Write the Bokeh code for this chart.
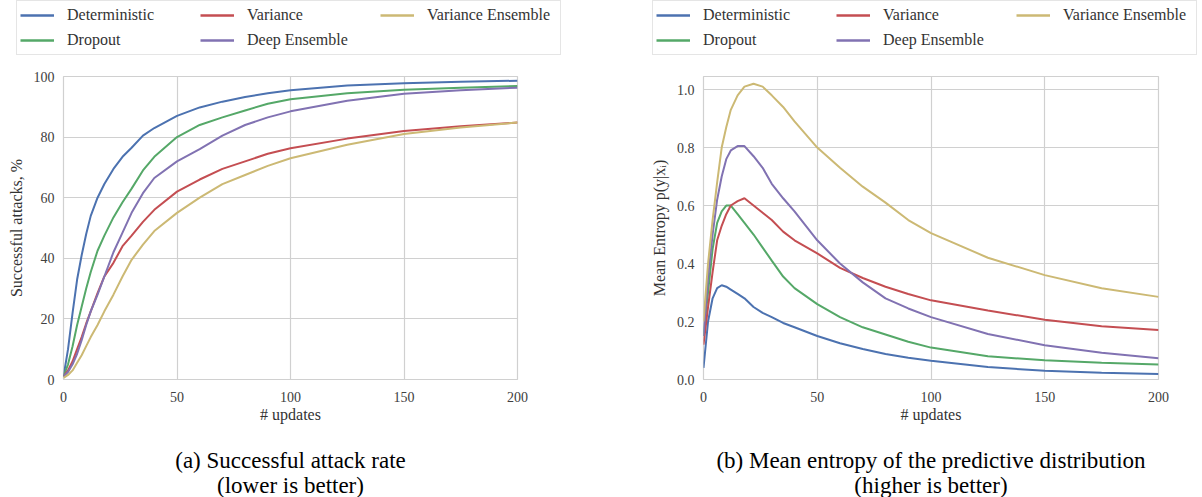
from bokeh.plotting import figure
from bokeh.models import Legend, LegendItem, FixedTicker, NumeralTickFormatter, Label, Range1d
from bokeh.layouts import row, column
from bokeh.embed import file_html
from bokeh.resources import INLINE

updates = [0, 2, 4, 6, 8, 10, 12, 15, 18, 22, 26, 30, 35, 40, 50, 60, 70, 80, 90, 100, 125, 150, 175, 200]

names = ["Deterministic", "Dropout", "Variance", "Deep Ensemble", "Variance Ensemble"]
colors = ["#4C72B0", "#55A868", "#C44E52", "#8172B2", "#CCB974"]

attack_deterministic = [1, 10, 22, 33, 41, 48, 54, 60, 64.5, 69.5, 73.5, 76.5, 80.5, 83, 87, 89.8, 91.7, 93.2, 94.5, 95.5, 97, 97.8, 98.3, 98.6]
attack_dropout = [1, 5, 11, 18, 24, 30, 35.5, 42.5, 47.5, 53.5, 58.5, 63, 69, 73.5, 80, 84, 86.5, 88.8, 91, 92.5, 94.5, 95.6, 96.3, 96.9]
attack_variance = [1, 3, 6, 10, 14, 18.5, 22.5, 28.5, 34, 38.5, 44, 47.5, 52, 56, 62, 66, 69.5, 72, 74.5, 76.3, 79.5, 82, 83.6, 84.8]
attack_deep_ensemble = [1, 2.5, 5, 8.5, 13, 18, 22.5, 28, 34, 42, 48.5, 55, 61.5, 66.5, 72, 76, 80.5, 84, 86.5, 88.5, 92, 94.3, 95.5, 96.3]
attack_variance_ensemble = [0.5, 1.5, 3, 5.5, 8, 11, 14, 18, 22.5, 28, 34, 39.5, 44.5, 49, 55, 60, 64.5, 67.5, 70.5, 73, 77.5, 81, 83.2, 84.8]

entropy_deterministic = [0.04, 0.2, 0.28, 0.315, 0.325, 0.32, 0.31, 0.295, 0.28, 0.25, 0.23, 0.215, 0.195, 0.18, 0.15, 0.125, 0.105, 0.088, 0.075, 0.065, 0.043, 0.03, 0.023, 0.019]
entropy_dropout = [0.15, 0.3, 0.45, 0.54, 0.58, 0.6, 0.6, 0.57, 0.54, 0.5, 0.455, 0.41, 0.355, 0.315, 0.26, 0.215, 0.18, 0.155, 0.13, 0.11, 0.08, 0.066, 0.058, 0.052]
entropy_variance = [0.12, 0.25, 0.37, 0.48, 0.53, 0.57, 0.6, 0.615, 0.625, 0.6, 0.575, 0.55, 0.51, 0.48, 0.435, 0.385, 0.35, 0.32, 0.295, 0.273, 0.238, 0.206, 0.184, 0.171]
entropy_deep_ensemble = [0.15, 0.35, 0.5, 0.62, 0.7, 0.76, 0.79, 0.805, 0.805, 0.77, 0.73, 0.675, 0.625, 0.58, 0.48, 0.4, 0.335, 0.28, 0.245, 0.215, 0.157, 0.118, 0.092, 0.073]
entropy_variance_ensemble = [0.2, 0.4, 0.55, 0.68, 0.8, 0.87, 0.93, 0.98, 1.01, 1.02, 1.01, 0.98, 0.94, 0.89, 0.8, 0.73, 0.665, 0.61, 0.55, 0.505, 0.42, 0.36, 0.315, 0.285]

x_ticks = [0, 50, 100, 150, 200]
attack_ticks = [0, 20, 40, 60, 80, 100]
entropy_ticks = [0.0, 0.2, 0.4, 0.6, 0.8, 1.0]

captions_a = ["(a) Successful attack rate", "(lower is better)"]
captions_b = ["(b) Mean entropy of the predictive distribution", "(higher is better)"]

FONT = "Liberation Serif"
GRID = "#d0d0d0"
LEG_H = 66
PAD_TOP = 10
CAP_H = 57
NAN = float("nan")


def bare_fig(width, height):
    f = figure(width=width, height=height, output_backend="svg", toolbar_location=None,
               x_range=Range1d(0, 1), y_range=Range1d(0, 1),
               min_border_left=0, min_border_right=0, min_border_top=0, min_border_bottom=0,
               x_axis_type=None, y_axis_type=None, frame_align=False)
    f.outline_line_color = None
    f.grid.visible = False
    return f


def make_legend_fig(width, legend_x):
    lf = bare_fig(width, LEG_H)
    items = []
    for name, color in zip(names, colors):
        r = lf.line([NAN, NAN], [NAN, NAN], line_color=color, line_width=2.5)
        items.append(LegendItem(label=name, renderers=[r]))
    legend = Legend(items=items, location=(legend_x, 11), orientation="vertical", ncols=3,
                    glyph_width=34, glyph_height=22, label_standoff=13, label_width=130,
                    label_height=22, spacing=3, padding=3, margin=0,
                    border_line_color="#cccccc", border_line_width=1,
                    background_fill_color="white", background_fill_alpha=1.0,
                    label_text_font=FONT, label_text_font_size="16px",
                    label_text_color="#333333")
    lf.add_layout(legend, "center")
    return lf


def make_caption_fig(width, center_x, lines):
    cf = bare_fig(width, CAP_H)
    for text, y in zip(lines, (CAP_H - 20, CAP_H - 45)):
        cf.add_layout(Label(x=center_x, y=y, x_units="screen", y_units="screen", text=text,
                            text_align="center", text_baseline="middle",
                            text_font=FONT, text_font_size="23px", text_color="black"))
    return cf


def make_panel(series, y_range, y_ticks, y_label, width, border_left, frame_w, y_fmt=None):
    height = 497 - LEG_H - CAP_H
    p = figure(width=width, height=height, output_backend="svg", toolbar_location=None,
               x_range=Range1d(0, 200), y_range=y_range,
               min_border_left=border_left, min_border_right=width - border_left - frame_w,
               min_border_top=PAD_TOP, min_border_bottom=height - PAD_TOP - 303)
    p.background_fill_color = "white"
    p.border_fill_color = "white"
    p.outline_line_color = GRID
    p.outline_line_width = 1.2

    for name, color, ys in zip(names, colors, series):
        p.line(updates, ys, line_color=color, line_width=2)

    for ax in (p.xaxis[0], p.yaxis[0]):
        ax.axis_line_color = None
        ax.major_tick_line_color = None
        ax.minor_tick_line_color = None
        ax.major_tick_out = 0
        ax.major_tick_in = 0
        ax.major_label_text_font = FONT
        ax.major_label_text_font_size = "14px"
        ax.major_label_text_color = "#404040"
        ax.axis_label_text_font = FONT
        ax.axis_label_text_font_size = "16px"
        ax.axis_label_text_font_style = "normal"
        ax.axis_label_text_color = "#333333"

    p.xaxis.ticker = FixedTicker(ticks=x_ticks)
    p.yaxis.ticker = FixedTicker(ticks=y_ticks)
    if y_fmt:
        p.yaxis.formatter = NumeralTickFormatter(format=y_fmt)
    p.xaxis.axis_label = "# updates"
    p.yaxis.axis_label = y_label
    p.xaxis.major_label_standoff = 12
    p.yaxis.major_label_standoff = 9
    p.xaxis.axis_label_standoff = 1
    p.yaxis.axis_label_standoff = 6

    p.xgrid.grid_line_color = GRID
    p.ygrid.grid_line_color = GRID
    p.xgrid.grid_line_width = 1.2
    p.ygrid.grid_line_width = 1.2
    return p


pa = make_panel([attack_deterministic, attack_dropout, attack_variance, attack_deep_ensemble, attack_variance_ensemble],
                Range1d(0, 100), attack_ticks, "Successful attacks, %", 600, 63, 454)
pb = make_panel([entropy_deterministic, entropy_dropout, entropy_variance, entropy_deep_ensemble, entropy_variance_ensemble],
                Range1d(0, 1.045), entropy_ticks, "Mean Entropy p(y|xᵢ)", 602, 103, 455, y_fmt="0.0")

la = make_legend_fig(600, 16)
lb = make_legend_fig(602, 52)
ca = make_caption_fig(600, 63 + 454 / 2, captions_a)
cb = make_caption_fig(602, 103 + 455 / 2, captions_b)

layout = row(column(la, pa, ca), column(lb, pb, cb))
open("out.html", "w").write(file_html(layout, INLINE))
